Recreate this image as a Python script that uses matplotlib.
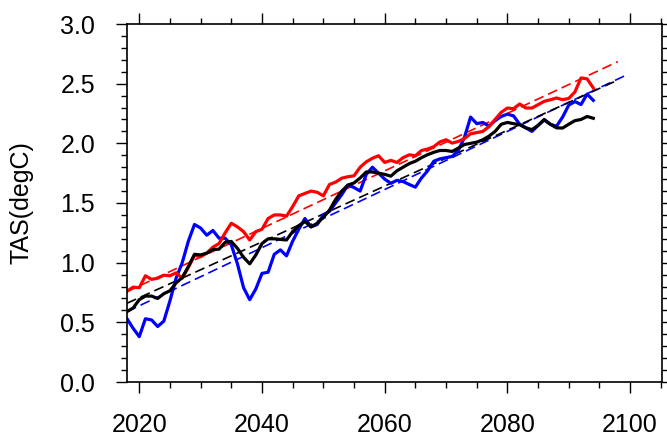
import numpy as np
import matplotlib
matplotlib.use("Agg")
import matplotlib.pyplot as plt
from matplotlib.ticker import MultipleLocator

# annual TAS anomalies, 2018-2094
start_year = 2018

tas_red = [0.76, 0.795, 0.79, 0.89, 0.86, 0.87, 0.895, 0.89, 0.915, 0.87,
           0.96, 1.06, 1.05, 1.08, 1.13, 1.16, 1.25, 1.33, 1.30, 1.26,
           1.19, 1.26, 1.28, 1.37, 1.40, 1.40, 1.39, 1.47, 1.56, 1.58,
           1.60, 1.59, 1.56, 1.655, 1.675, 1.708, 1.72, 1.728, 1.80, 1.845,
           1.875, 1.896, 1.84, 1.857, 1.84, 1.88, 1.904, 1.896, 1.94, 1.952,
           1.972, 2.012, 2.03, 2.002, 2.016, 2.04, 2.08, 2.09, 2.10, 2.14,
           2.20, 2.26, 2.296, 2.29, 2.33, 2.296, 2.296, 2.324, 2.352, 2.365,
           2.38, 2.366, 2.376, 2.43, 2.548, 2.54, 2.464]

tas_blue = [0.53, 0.45, 0.38, 0.53, 0.52, 0.465, 0.51, 0.68, 0.87, 1.0,
            1.18, 1.32, 1.29, 1.23, 1.27, 1.205, 1.205, 1.15, 0.99, 0.79,
            0.69, 0.78, 0.91, 0.92, 1.07, 1.107, 1.057, 1.18, 1.28, 1.37,
            1.30, 1.32, 1.40, 1.43, 1.50, 1.57, 1.65, 1.63, 1.60, 1.74,
            1.80, 1.75, 1.70, 1.665, 1.69, 1.68, 1.655, 1.633, 1.71, 1.77,
            1.85, 1.87, 1.88, 1.89, 1.94, 2.05, 2.22, 2.165, 2.175, 2.145,
            2.19, 2.225, 2.245, 2.23, 2.16, 2.13, 2.10, 2.15, 2.195, 2.16,
            2.143, 2.22, 2.32, 2.35, 2.325, 2.413, 2.36]

tas_black = [0.59, 0.62, 0.69, 0.72, 0.72, 0.70, 0.74, 0.765, 0.83, 0.875,
             0.967, 1.07, 1.065, 1.08, 1.11, 1.113, 1.17, 1.178, 1.12, 1.045,
             0.99, 1.065, 1.16, 1.20, 1.20, 1.195, 1.19, 1.26, 1.31, 1.345,
             1.30, 1.33, 1.38, 1.44, 1.53, 1.60, 1.65, 1.668, 1.71, 1.76,
             1.76, 1.75, 1.74, 1.725, 1.77, 1.80, 1.83, 1.85, 1.88, 1.905,
             1.925, 1.94, 1.94, 1.932, 1.96, 1.99, 2.0, 2.01, 2.03, 2.06,
             2.10, 2.16, 2.175, 2.165, 2.156, 2.13, 2.115, 2.15, 2.2, 2.16,
             2.13, 2.128, 2.16, 2.19, 2.20, 2.225, 2.21]

# linear trend end points (year, value)
trend_red = ([2018, 2098], [0.757, 2.685])
trend_blue = ([2018, 2099.5], [0.59, 2.575])
trend_black = ([2018, 2098], [0.66, 2.53])

years = np.arange(start_year, start_year + len(tas_black))

plt.rcParams['font.family'] = ['Liberation Sans', 'DejaVu Sans']

fig = plt.figure(figsize=(6.67, 4.38), dpi=100)
ax = fig.add_axes([127/667, 1 - 382/438, (662 - 127)/667, (382 - 24)/438])

for x, y, c in [(trend_red[0], trend_red[1], 'red'),
                (trend_blue[0], trend_blue[1], 'blue'),
                (trend_black[0], trend_black[1], 'black')]:
    ax.plot(x, y, color=c, lw=1.2, dashes=(6, 3))

ax.plot(years, tas_blue, color='blue', lw=2.3)
ax.plot(years, tas_red, color='red', lw=2.3)
ax.plot(years, tas_black, color='black', lw=2.3)

ax.set_xlim(2018, 2105.2)
ax.set_ylim(0, 3.0)
ax.xaxis.set_major_locator(MultipleLocator(20))
ax.xaxis.set_minor_locator(MultipleLocator(5))
ax.yaxis.set_major_locator(MultipleLocator(0.5))
ax.yaxis.set_minor_locator(MultipleLocator(0.1))
ax.yaxis.set_major_formatter(plt.FormatStrFormatter('%.1f'))

ax.tick_params(which='both', direction='out', top=True, right=True,
               labelsize=18, width=1.0)
ax.tick_params(which='major', length=8)
ax.tick_params(which='minor', length=4)
ax.tick_params(axis='x', which='major', pad=14)
ax.tick_params(axis='y', which='major', pad=15)
for s in ax.spines.values():
    s.set_linewidth(1.2)

ax.set_ylabel('TAS(degC)', fontsize=18)
ax.yaxis.set_label_coords(-(127 - 34)/535, 0.5)

fig.savefig('out.png', dpi=100)
